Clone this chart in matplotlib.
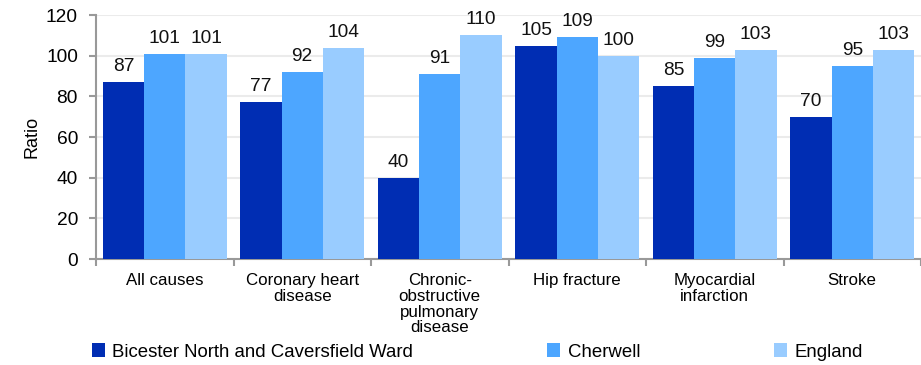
import matplotlib
matplotlib.use("Agg")
import matplotlib.pyplot as plt
import numpy as np

categories = ["All causes", "Coronary heart\ndisease", "Chronic-\nobstructive\npulmonary\ndisease",
              "Hip fracture", "Myocardial\ninfarction", "Stroke"]
series_names = ["Bicester North and Caversfield Ward", "Cherwell", "England"]
bicester = [87, 77, 40, 105, 85, 70]
cherwell = [101, 92, 91, 109, 99, 95]
england = [101, 104, 110, 100, 103, 103]
yticks = [0, 20, 40, 60, 80, 100, 120]

colors = ["#002db3", "#4da6ff", "#99ccff"]

plt.rcParams['font.family'] = ['Liberation Sans', 'DejaVu Sans']

fig = plt.figure(figsize=(9.21, 3.65), dpi=100)
ax = fig.add_axes([96/921, 1-259/365, 1-96/921, (259-15)/365])

x = np.arange(len(categories))
w = 0.3
for i, (vals, name, c) in enumerate(zip([bicester, cherwell, england], series_names, colors)):
    bars = ax.bar(x + (i-1)*w, vals, width=w, color=c, label=name, zorder=3)
    ax.bar_label(bars, labels=[str(v) for v in vals], padding=5, fontsize=13.8, color="#111111")

ax.set_xlim(-0.5, len(categories)-0.5)
ax.set_ylim(0, 120)
ax.set_yticks(yticks)
ax.set_yticklabels([str(t) for t in yticks], fontsize=13.8)
ax.set_xticks(x)
ax.set_xticklabels(categories, fontsize=12.2, linespacing=1.07, va='top')
ax.set_xticks(np.arange(len(categories)+1)-0.5, minor=True)
ax.tick_params(axis='x', which='major', length=0, pad=10)
ax.tick_params(axis='x', which='minor', length=5, width=1.5, color="#999999")
ax.tick_params(axis='y', length=5, width=1.5, color="#999999", pad=8)
ax.grid(axis='y', color="#ebebeb", linewidth=1.5, zorder=0)
for s in ['top', 'right']:
    ax.spines[s].set_visible(False)
for s in ['left', 'bottom']:
    ax.spines[s].set_color("#999999")
    ax.spines[s].set_linewidth(1.5)
ax.set_ylabel("Ratio", fontsize=13, labelpad=4)

handles, labels = ax.get_legend_handles_labels()
fig.legend(handles, labels, loc='center left', bbox_to_anchor=(92/921, 13/365), ncol=3,
           frameon=False, fontsize=13.4, handlelength=0.7, handleheight=0.7,
           handletextpad=0.4, columnspacing=7.2, borderaxespad=0, borderpad=0)

fig.savefig("out.png", dpi=100)
